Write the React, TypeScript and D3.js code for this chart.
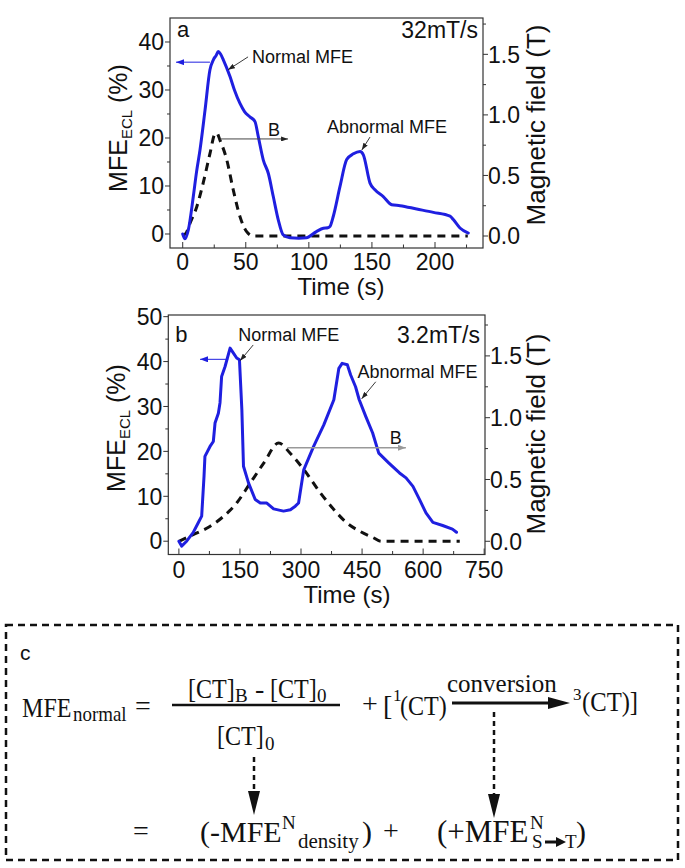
import React from "react";
import * as d3 from "d3";

const SANS = "'Liberation Sans', Arial, Helvetica, sans-serif";
const SERIF = "'Liberation Serif', 'Times New Roman', serif";
const BLUE = "#1f1fe0";

// ---------- Panel a (32 mT/s) ----------
const aTime = [0, 1.8, 4.5, 8.4, 11, 13.7, 17.7, 21.6, 24.3, 26.5, 28.2, 30, 32.2, 37.5, 41, 45.4, 49, 53.3, 57.3, 59.9, 63.9, 67.9, 71.8, 75.8, 79.7, 85, 92, 98, 106, 111.5, 115, 116.8, 119.4, 124.7, 130, 135.3, 140.6, 143.2, 148.5, 152.4, 159, 165.7, 172.3, 185.5, 198.7, 211.9, 214.5, 219.8, 226.4];
const aMFE = [0, -1.0, 0.9, 7.8, 13, 17.5, 25.8, 34.2, 36.3, 37.2, 38.0, 37.5, 36.3, 32.8, 30.0, 27.2, 25.5, 24.4, 23.4, 20.3, 15.4, 12.6, 7.8, 2.9, -0.2, -0.8, -0.9, -0.8, 0.5, 1.2, 1.3, 1.6, 3.7, 9.9, 15.5, 16.7, 17.2, 16.5, 10.6, 9.2, 7.8, 6.1, 5.9, 5.2, 4.5, 3.7, 3.0, 1.25, 0.2];
const aFieldTime = [0, 3, 5.8, 11.1, 16.3, 21.6, 25.6, 27, 29.6, 34.9, 40.1, 45.4, 50.7, 56, 226];
const aField = [0, 0.03, 0.105, 0.24, 0.44, 0.68, 0.845, 0.85, 0.79, 0.63, 0.38, 0.16, 0.036, 0, 0];
const aXTicks = [0, 50, 100, 150, 200];
const aXMinor = [25, 75, 125, 175, 225];
const aYTicks = [0, 10, 20, 30, 40];
const aYMinor = [5, 15, 25, 35];
const aRTicks = [0, 0.5, 1.0, 1.5];
const aRMinor = [0.25, 0.75, 1.25, 1.75];

// ---------- Panel b (3.2 mT/s) ----------
const bTime = [0, 6.7, 19, 35, 47.6, 56, 61.7, 64, 76.5, 84.6, 88.8, 97, 101, 105, 113.5, 125.8, 134, 142, 148.8, 154.7, 158.7, 171, 187.5, 200, 216, 232.7, 257, 274, 286, 294, 306.7, 331, 356, 380.7, 393, 401, 413.8, 422, 434, 443, 459, 476, 491, 516, 542, 558, 575, 591, 607, 624, 648, 672, 682];
const bMFE = [0, -1.1, 0, 1.9, 4.1, 5.6, 14.4, 18.9, 21.1, 22.2, 26.3, 28.5, 30.8, 36.7, 38.9, 43, 41.9, 40.8, 40.4, 29.3, 16.7, 13, 9.3, 8.5, 8.5, 7.2, 6.7, 7, 7.8, 8.5, 15.9, 21.1, 25.9, 31.5, 38.5, 39.6, 39.3, 37, 34.4, 31.5, 27.8, 24.1, 19.6, 17.4, 15.2, 14.1, 12.2, 9.3, 6.3, 4.2, 3.5, 2.7, 2.0];
const bFieldTime = [0, 35, 76, 109, 142, 175, 208, 245, 274, 307, 348, 381, 412, 445, 477, 497, 690];
const bField = [0, 0.054, 0.12, 0.2, 0.31, 0.47, 0.63, 0.795, 0.71, 0.58, 0.39, 0.256, 0.15, 0.08, 0.03, 0, 0];
const bXTicks = [0, 150, 300, 450, 600, 750];
const bXMinor = [75, 225, 375, 525, 675];
const bYTicks = [0, 10, 20, 30, 40, 50];
const bYMinor = [5, 15, 25, 35, 45];
const bRTicks = [0, 0.5, 1.0, 1.5];
const bRMinor = [0.25, 0.75, 1.25, 1.75];

const fmtR = d3.format(".1f");

type Box = { x0: number; x1: number; y0: number; y1: number };

function Panel(p: any) {
  const box: Box = p.box;
  const x = d3.scaleLinear().domain(p.xDom).range([box.x0, box.x1]);
  const y = d3.scaleLinear().domain(p.yDom).range([box.y1, box.y0]);
  const r = d3.scaleLinear().domain(p.rDom).range([box.y1, box.y0]);
  const mfeLine = d3
    .line<number>()
    .x((_d, i) => x(p.time[i]))
    .y((d) => y(d))
    .curve(p.curve);
  const fieldLine = d3
    .line<number>()
    .x((_d, i) => x(p.fieldTime[i]))
    .y((d) => r(d))
    .curve(d3.curveMonotoneX);
  const an = p.ann;
  const frame = "#333";
  return (
    <g>
      <path d={fieldLine(p.field) || ""} fill="none" stroke="#111" strokeWidth={3} strokeDasharray="8 6" />
      <path d={mfeLine(p.mfe) || ""} fill="none" stroke={BLUE} strokeWidth={3} strokeLinejoin="round" strokeLinecap="round" />
      <rect x={box.x0} y={box.y0} width={box.x1 - box.x0} height={box.y1 - box.y0} fill="none" stroke={frame} strokeWidth={1.2} />
      {/* bottom ticks (inside) */}
      {p.xTicks.map((t: number) => (
        <g key={"xt" + t}>
          <line x1={x(t)} x2={x(t)} y1={box.y1} y2={box.y1 - 6} stroke={frame} strokeWidth={1} />
          <text x={x(t)} y={box.y1 + p.tickDy} textAnchor="middle" fontFamily={SANS} fontSize={23} fill="#111">
            {t}
          </text>
        </g>
      ))}
      {p.xMinor.map((t: number) => (
        <line key={"xm" + t} x1={x(t)} x2={x(t)} y1={box.y1} y2={box.y1 - 3.5} stroke={frame} strokeWidth={1} />
      ))}
      {/* left ticks (outside) */}
      {p.yTicks.map((v: number) => (
        <g key={"yt" + v}>
          <line x1={box.x0} x2={box.x0 - 5} y1={y(v)} y2={y(v)} stroke={frame} strokeWidth={1} />
          <text x={box.x0 - 6} y={y(v)} dy="0.36em" textAnchor="end" fontFamily={SANS} fontSize={23} fill="#111">
            {v}
          </text>
        </g>
      ))}
      {p.yMinor.map((v: number) => (
        <line key={"ym" + v} x1={box.x0} x2={box.x0 - 3} y1={y(v)} y2={y(v)} stroke={frame} strokeWidth={1} />
      ))}
      {/* right ticks (outside) */}
      {p.rTicks.map((v: number) => (
        <g key={"rt" + v}>
          <line x1={box.x1} x2={box.x1 + 5} y1={r(v)} y2={r(v)} stroke={frame} strokeWidth={1} />
          <text x={box.x1 + 5} y={r(v)} dy="0.36em" textAnchor="start" fontFamily={SANS} fontSize={23} fill="#111">
            {fmtR(v)}
          </text>
        </g>
      ))}
      {p.rMinor.map((v: number) => (
        <line key={"rm" + v} x1={box.x1} x2={box.x1 + 3} y1={r(v)} y2={r(v)} stroke={frame} strokeWidth={1} />
      ))}
      {/* axis titles */}
      <text x={p.timeX} y={p.timeY} textAnchor="middle" fontFamily={SANS} fontSize={24} fill="#111">
        Time (s)
      </text>
      <text transform={`translate(${p.yLabX},${p.yLabY}) rotate(-90)`} textAnchor="middle" fontFamily={SANS} fontSize={25} fill="#111">
        MFE
        <tspan fontSize={15} dy={5}>
          ECL
        </tspan>
        <tspan dy={-5}> (%)</tspan>
      </text>
      <text transform={`translate(545,${p.rLabY}) rotate(-90)`} textAnchor="middle" fontFamily={SANS} fontSize={26} fill="#111">
        Magnetic field (T)
      </text>
      {/* panel letter and rate */}
      <text x={box.x0 + 7} y={p.letterY} fontFamily={SANS} fontSize={22} fill="#111">
        {p.letter}
      </text>
      <text x={box.x1 - 5} y={p.letterY + 1} textAnchor="end" fontFamily={SANS} fontSize={23} fill="#111">
        {p.rate}
      </text>
      {/* annotations */}
      <line x1={x(an.blue[0])} x2={x(an.blue[1])} y1={y(an.blue[2])} y2={y(an.blue[2])} stroke={BLUE} strokeWidth={1} markerEnd="url(#ahBlue)" />
      <line x1={x(an.normPtr[0])} y1={y(an.normPtr[1])} x2={x(an.normPtr[2])} y2={y(an.normPtr[3])} stroke="#222" strokeWidth={0.9} markerEnd="url(#ahBlack)" />
      <text x={x(an.normText[0])} y={y(an.normText[1])} fontFamily={SANS} fontSize={18} fill="#111">
        Normal MFE
      </text>
      <line x1={x(an.bArrow[0])} x2={x(an.bArrow[1])} y1={y(an.bArrow[2])} y2={y(an.bArrow[2])} stroke={an.bColor} strokeWidth={an.bWidth} markerEnd={an.bMarker} />
      <text x={x(an.bText[0])} y={y(an.bText[1])} fontFamily={SANS} fontSize={18} fill="#111">
        B
      </text>
      <line x1={x(an.abPtr[0])} y1={y(an.abPtr[1])} x2={x(an.abPtr[2])} y2={y(an.abPtr[3])} stroke="#222" strokeWidth={0.9} markerEnd="url(#ahBlack)" />
      <text x={x(an.abText[0])} y={y(an.abText[1])} fontFamily={SANS} fontSize={18} fill="#111">
        Abnormal MFE
      </text>
    </g>
  );
}

function T(props: any) {
  const { x, y, size, sx = 1, children, family = SERIF } = props;
  return (
    <text transform={`translate(${x},${y}) scale(${sx},1)`} fontFamily={family} fontSize={size} fill="#111">
      {children}
    </text>
  );
}

function PanelC() {
  return (
    <g>
      <rect x={6} y={625} width={672} height={235} fill="none" stroke="#111" strokeWidth={2.5} strokeDasharray="7 5" />
      <T x={20} y={660} size={21} family={SANS}>c</T>
      {/* top row */}
      <T x={22} y={717} size={28} sx={0.86}>MFE</T>
      <T x={73} y={721} size={21} sx={0.9}>normal</T>
      <T x={135} y={715} size={28}>=</T>
      <line x1={172} x2={340} y1={705} y2={705} stroke="#111" strokeWidth={2.5} />
      <T x={188} y={698} size={28} sx={0.86}>[CT]</T>
      <T x={235} y={702} size={19}>B</T>
      <T x={255} y={698} size={28}>-</T>
      <T x={270} y={698} size={28} sx={0.86}>[CT]</T>
      <T x={317} y={702} size={19}>0</T>
      <T x={217} y={745} size={28} sx={0.86}>[CT]</T>
      <T x={265} y={750} size={19}>0</T>
      <T x={362} y={713} size={28}>+</T>
      <T x={383} y={715} size={28}>[</T>
      <T x={393} y={701} size={17}>1</T>
      <T x={400} y={715} size={28} sx={0.86}>(CT)</T>
      <T x={447} y={692} size={25}>conversion</T>
      <line x1={452} x2={552} y1={703} y2={703} stroke="#111" strokeWidth={3} />
      <path d="M548,697 L570,703 L548,709 Z" fill="#111" />
      <T x={573} y={700} size={17}>3</T>
      <T x={582} y={711} size={28} sx={0.88}>(CT)]</T>
      {/* dashed arrows */}
      <line x1={254} x2={254} y1={757} y2={794} stroke="#111" strokeWidth={2.5} strokeDasharray="5 4" />
      <path d="M248,791 L254,815 L260,791 Z" fill="#111" />
      <line x1={494} x2={494} y1={712} y2={797} stroke="#111" strokeWidth={2.5} strokeDasharray="5 4" />
      <path d="M488,794 L494,818 L500,794 Z" fill="#111" />
      {/* bottom row */}
      <T x={133} y={840} size={28}>=</T>
      <T x={200} y={842} size={30}>(-MFE</T>
      <T x={282} y={829} size={19}>N</T>
      <T x={298} y={848} size={21}>density</T>
      <T x={362} y={842} size={30}>)</T>
      <T x={383} y={840} size={28}>+</T>
      <T x={437} y={842} size={31}>(+MFE</T>
      <T x={530} y={829} size={19}>N</T>
      <T x={532} y={848} size={19}>S</T>
      <line x1={545} x2={559} y1={842} y2={842} stroke="#111" strokeWidth={3} />
      <path d="M556,837 L566,842 L556,847 Z" fill="#111" />
      <T x={565} y={848} size={19}>T</T>
      <T x={576} y={842} size={30}>)</T>
    </g>
  );
}

export default function App() {
  const annA = {
    blue: [21.6, -5.3, 35.8],
    normPtr: [51.8, 36.9, 35.9, 34.2],
    normText: [54.9, 35.6],
    bArrow: [29.6, 83.5, 19.8],
    bText: [67.6, 20.4],
    abPtr: [148.5, 20.2, 142, 17.5],
    abText: [114.4, 21],
    bColor: "#444",
    bWidth: 1,
    bMarker: "url(#ahBlack)",
  };
  const annB = {
    blue: [121, 52, 40.5],
    normPtr: [182.6, 43.7, 150.5, 40.2],
    normText: [145.6, 44.6],
    bArrow: [266.5, 557.6, 20.8],
    bText: [518, 21.7],
    abPtr: [483.6, 35.5, 449, 31.7],
    abText: [439, 36.4],
    bColor: "#999",
    bWidth: 1.5,
    bMarker: "url(#ahGray)",
  };
  return (
    <svg width={685} height={868} viewBox="0 0 685 868" style={{ position: "absolute", left: 0, top: 0, background: "#fff" }}>
      <defs>
        <marker id="ahBlue" markerUnits="userSpaceOnUse" markerWidth={8} markerHeight={6} refX={8} refY={3} orient="auto">
          <path d="M0,0 L8,3 L0,6 Z" fill={BLUE} />
        </marker>
        <marker id="ahBlack" markerUnits="userSpaceOnUse" markerWidth={7} markerHeight={5} refX={7} refY={2.5} orient="auto">
          <path d="M0,0 L7,2.5 L0,5 Z" fill="#222" />
        </marker>
        <marker id="ahGray" markerUnits="userSpaceOnUse" markerWidth={8} markerHeight={6} refX={8} refY={3} orient="auto">
          <path d="M0,0 L8,3 L0,6 Z" fill="#999" />
        </marker>
      </defs>
      <rect x={0} y={0} width={685} height={868} fill="#fff" />
      <Panel
        box={{ x0: 170, x1: 483, y0: 18, y1: 248 }}
        xDom={[-10.07, 238.05]}
        yDom={[-2.92, 45]}
        rDom={[-0.099, 1.8]}
        time={aTime}
        mfe={aMFE}
        fieldTime={aFieldTime}
        field={aField}
        curve={d3.curveMonotoneX}
        xTicks={aXTicks}
        xMinor={aXMinor}
        yTicks={aYTicks}
        yMinor={aYMinor}
        rTicks={aRTicks}
        rMinor={aRMinor}
        tickDy={22}
        timeX={341}
        timeY={295}
        yLabX={127}
        yLabY={128}
        rLabY={125}
        letter="a"
        rate="32mT/s"
        letterY={37}
        ann={annA}
      />
      <Panel
        box={{ x0: 168.3, x1: 485, y0: 315, y1: 554.5 }}
        xDom={[-26, 752]}
        yDom={[-2.96, 50.37]}
        rDom={[-0.107, 1.831]}
        time={bTime}
        mfe={bMFE}
        fieldTime={bFieldTime}
        field={bField}
        curve={d3.curveLinear}
        xTicks={bXTicks}
        xMinor={bXMinor}
        yTicks={bYTicks}
        yMinor={bYMinor}
        rTicks={bRTicks}
        rMinor={bRMinor}
        tickDy={23}
        timeX={347}
        timeY={603}
        yLabX={125}
        yLabY={428}
        rLabY={434}
        letter="b"
        rate="3.2mT/s"
        letterY={342}
        ann={annB}
      />
      <PanelC />
    </svg>
  );
}
